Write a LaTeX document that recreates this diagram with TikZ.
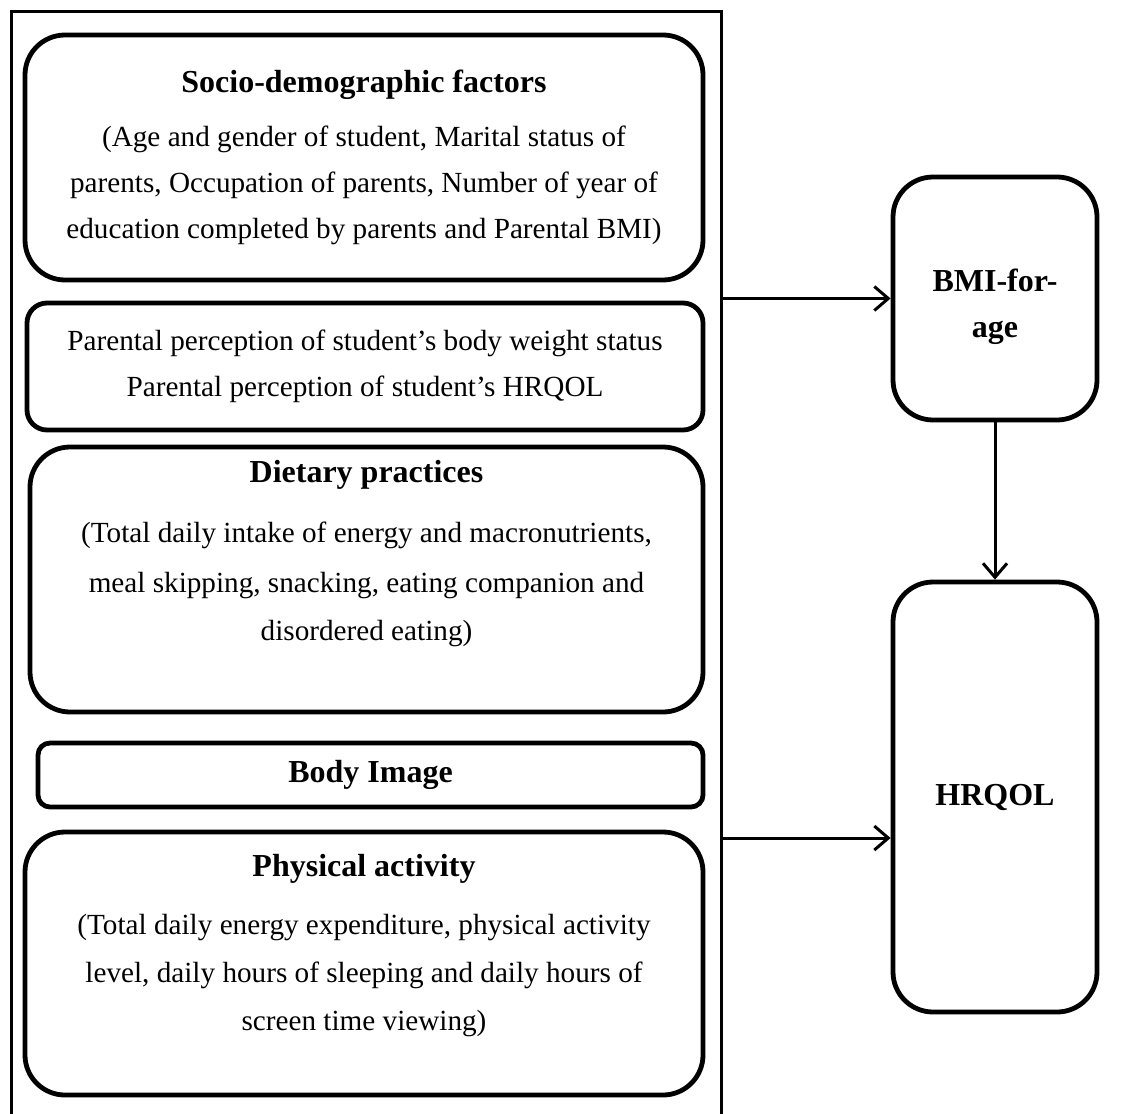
\documentclass[tikz,border=0pt]{standalone}
\usepackage{fontspec}
\setmainfont{Liberation Serif}
\usetikzlibrary{arrows.meta,calc,positioning}

\newcommand{\bodyfont}{\fontsize{14.6}{23}\selectfont}
\newcommand{\headfont}{\fontsize{16}{23}\selectfont\bfseries}

\begin{document}
\begin{tikzpicture}
    [x=0.5pt,y=-0.5pt,font=\bodyfont,
    factor/.style={draw,line width=2.4pt,rounded corners=20pt,align=center,inner sep=0pt},
    outcome/.style={factor,minimum width=102pt,font=\headfont},
    frame/.style={draw,line width=1.5pt,minimum width=355pt,minimum height=564pt,inner sep=0pt},
    link/.style={line width=1.5pt,-{Straight Barb[length=7pt,width=12pt,line width=1.5pt]}}]

    \useasboundingbox (0,0) rectangle (1133,1113);

    % left block, bottom edge runs off the page
    \node[frame] (group) at (366,576) {};

    \node[factor,minimum width=339pt,minimum height=122.5pt] (socio) at (364,157.5)
    {{\headfont Socio-demographic factors}\\[4pt]
      (Age and gender of student, Marital status of\\
      parents, Occupation of parents, Number of year of\\
      education completed by parents and Parental BMI)};
    \node[factor,rounded corners=10pt,minimum width=338pt,minimum height=63.5pt] (percep) at (365,366.5)
    {Parental perception of student's body weight status\\
      Parental perception of student's HRQOL};
    \node[factor,minimum width=336.5pt,minimum height=132.5pt] (diet) at (366.5,579.5)
    {{\headfont Dietary practices}\\[7pt]
      (Total daily intake of energy and macronutrients,\\[2pt]
      meal skipping, snacking, eating companion and\\[1pt]
      disordered eating)\\[6pt]\mbox{}};
    \node[factor,rounded corners=6pt,minimum width=332.5pt,minimum height=32pt,font=\headfont] (body) at (370.5,775)
    {Body Image};
    \node[factor,minimum width=339pt,minimum height=131.5pt] (phys) at (364,963.5)
    {{\headfont Physical activity}\\[6pt]
      (Total daily energy expenditure, physical activity\\[1pt]
      level, daily hours of sleeping and daily hours of\\[1pt]
      screen time viewing)\\[-2pt]\mbox{}};

    % outcomes
    \node[outcome,minimum height=121.5pt] (bmi) at (995,298.5) {\rule{0pt}{20pt}BMI-for-\\age};
    \node[outcome,minimum height=215pt] (hrqol) at (995,797) {HRQOL};

    \draw[link] (group.east |- bmi.west) -- (bmi.west);
    \draw[link] (bmi.south) -- (hrqol.north);
    \draw[link] ($(group.east |- hrqol.west)+(0,41)$) -- ($(hrqol.west)+(0,41)$);
\end{tikzpicture}
\end{document}
